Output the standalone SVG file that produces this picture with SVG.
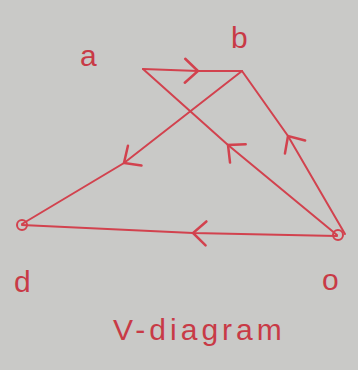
<svg xmlns="http://www.w3.org/2000/svg" width="358" height="370" viewBox="0 0 358 370">
<style>
.ln{fill:none;stroke:#d2424e;stroke-width:2;stroke-linecap:round;marker-mid:url(#chev)}
.lbl{font-family:"Liberation Sans",sans-serif;fill:#c83a46;font-size:30px}
.pt{fill:none;stroke:#d2424e;stroke-width:2}
</style>
<defs>
<marker id="chev" markerUnits="userSpaceOnUse" markerWidth="30" markerHeight="30" refX="0" refY="0" viewBox="-15 -15 30 30" orient="auto" overflow="visible">
<path d="M-13,-12 L0,0 L-13,12" fill="none" stroke="#d2424e" stroke-width="2.5" stroke-linecap="round"/>
</marker>
</defs>
<rect width="358" height="370" fill="#c9c9c7"/>
<g id="connectors">
<path id="ab" class="ln" d="M143,69 L198,71 L242,71"/>
<path id="bd" class="ln" d="M242,71 L124,163 L22,224"/>
<path id="oa" class="ln" d="M337,235 L228,145 L143,69"/>
<path id="ob" class="ln" d="M345,234 L288,136 L242,71"/>
<path id="od" class="ln" d="M337,236 L193,233 L22,225"/>
</g>
<g id="node-a"><text class="lbl" x="80" y="66">a</text></g>
<g id="node-b"><text class="lbl" x="231" y="48">b</text></g>
<g id="node-d"><circle class="pt" cx="22" cy="225" r="5"/><text class="lbl" x="14" y="292">d</text></g>
<g id="node-o"><circle class="pt" cx="338" cy="235" r="5"/><text class="lbl" x="322" y="290">o</text></g>
<g id="title"><text class="lbl" x="113" y="340" font-size="32" letter-spacing="4">V-diagram</text></g>
</svg>
